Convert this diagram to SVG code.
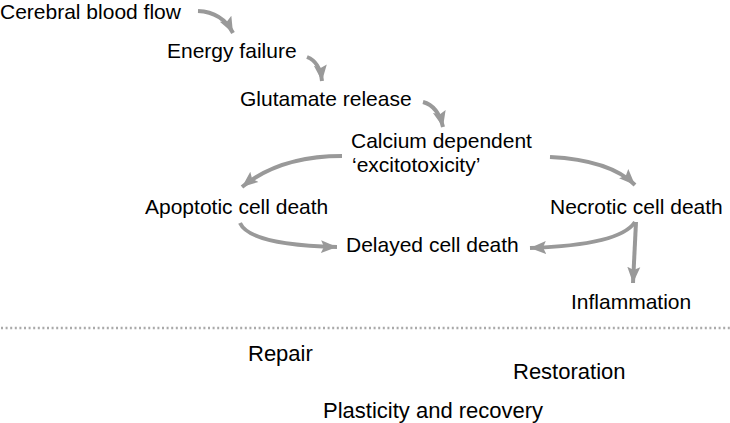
<svg xmlns="http://www.w3.org/2000/svg" width="730" height="423" viewBox="0 0 730 423">
<style>
  .t { font-family: "Liberation Sans", Arial, sans-serif; font-size: 21px; fill: #000; }
  .b { font-size: 22px; }
  .c { fill: none; stroke: #999; stroke-width: 4; marker-end: url(#ah); }
  .dots { stroke: #aaa; stroke-width: 2.5; stroke-dasharray: 2 2.6; }
</style>
<defs>
  <marker id="ah" markerUnits="userSpaceOnUse" markerWidth="17" markerHeight="17" viewBox="0 0 17 17" refX="16" refY="8.5" orient="auto">
    <path d="M0,2 L16,8.5 L0,15 L3,8.5 Z" fill="#999"/>
  </marker>
</defs>
<rect width="730" height="423" fill="#fff"/>
<g id="connectors">
  <path class="c" d="M198,11 Q222,12 233,33"/>
  <path class="c" d="M307,57 Q320,62 322,81"/>
  <path class="c" d="M423,102 Q438,106 443,127"/>
  <path class="c" d="M342,156 Q280,156 242,187"/>
  <path class="c" d="M550,157 Q610,160 635,185"/>
  <path class="c" d="M240,223 Q250,245 337,247"/>
  <path class="c" d="M635,222 Q620,245 530,248"/>
  <path class="c" d="M636,222 L633,283"/>
</g>
<line class="dots" x1="1" y1="328" x2="730" y2="328"/>
<g id="n-cbf"><text class="t" x="0" y="19">Cerebral blood flow</text></g>
<g id="n-energy"><text class="t" x="167" y="58">Energy failure</text></g>
<g id="n-glut"><text class="t" x="240" y="106">Glutamate release</text></g>
<g id="n-calcium"><text class="t" x="351" y="148">Calcium dependent</text><text class="t" x="352" y="172">‘excitotoxicity’</text></g>
<g id="n-apop"><text class="t" x="145" y="214">Apoptotic cell death</text></g>
<g id="n-necro"><text class="t" x="550" y="214">Necrotic cell death</text></g>
<g id="n-delayed"><text class="t" x="346" y="252">Delayed cell death</text></g>
<g id="n-inflam"><text class="t" x="571" y="309">Inflammation</text></g>
<g id="n-repair"><text class="t b" x="248" y="361">Repair</text></g>
<g id="n-restore"><text class="t b" x="513" y="379">Restoration</text></g>
<g id="n-plast"><text class="t b" x="323" y="418">Plasticity and recovery</text></g>
</svg>
